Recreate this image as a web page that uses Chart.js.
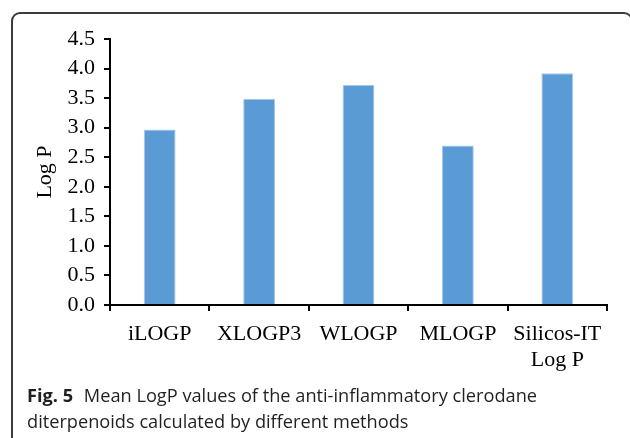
<!DOCTYPE html>
<html>
<head>
<meta charset="utf-8">
<script src="https://cdn.jsdelivr.net/npm/chart.js@4.4.1/dist/chart.umd.min.js"></script>
<style>
  html, body { margin: 0; padding: 0; background: #fff; width: 630px; height: 438px; overflow: hidden; }
  #frame {
    position: absolute; left: 11px; top: 12px; width: 622px; height: 460px;
    box-sizing: border-box;
    border: 2px solid #3c3c3c; border-bottom: none;
    border-radius: 9px 9px 0 0;
  }
  #chart { position: absolute; left: 0; top: 0; }
  #caption {
    position: absolute; left: 27px; top: 382px; width: 600px;
    font-family: "Open Sans", sans-serif; font-size: 18.2px; line-height: 26px;
    color: #231f20; white-space: nowrap;
  }
  #caption b { font-weight: 700; margin-right: 6px; }
</style>
</head>
<body>
<div id="frame"></div>
<canvas id="chart" width="630" height="385"></canvas>
<div id="caption"><b>Fig. 5</b> Mean LogP values of the anti-inflammatory clerodane<br>diterpenoids calculated by different methods</div>
<script>
// categories and values
const methods = ['iLOGP', 'XLOGP3', 'WLOGP', 'MLOGP', ['Silicos-IT', 'Log P']];
const meanLogP = [2.97, 3.49, 3.72, 2.70, 3.92];
const yTicks = [0, 0.5, 1.0, 1.5, 2.0, 2.5, 3.0, 3.5, 4.0, 4.5];

const serif = { family: '"Liberation Serif", "Times New Roman", serif', size: 22 };

function generateBarChart(canvasId, labels, data) {
    const chartData = {
        labels: labels,
        datasets: [{
            label: 'Log P',
            data: data,
            backgroundColor: '#5b9bd5',
            borderColor: '#a7c7ea',
            borderWidth: { left: 1, right: 1, top: 1, bottom: 0 },
            barPercentage: 0.32,
            categoryPercentage: 1.0
        }]
    };

    const config = {
        type: 'bar',
        data: chartData,
        options: {
            responsive: false,
            devicePixelRatio: 1,
            animation: false,
            layout: {
                padding: { left: 28, top: 39, right: 23, bottom: 10 }
            },
            plugins: {
                legend: { display: false },
                tooltip: { enabled: false }
            },
            scales: {
                x: {
                    offset: true,
                    grid: {
                        offset: true,
                        drawOnChartArea: false,
                        drawTicks: true,
                        tickLength: 6,
                        color: '#000',
                        lineWidth: 2
                    },
                    border: { display: true, color: '#000', width: 2 },
                    ticks: {
                        color: '#000',
                        font: serif,
                        padding: 10,
                        maxRotation: 0,
                        autoSkip: false
                    },
                    afterFit: function(scale) { scale.height = 70; }
                },
                y: {
                    min: yTicks[0],
                    max: yTicks[yTicks.length - 1],
                    afterBuildTicks: function(scale) {
                        scale.ticks = yTicks.map(function(v) { return { value: v }; });
                    },
                    grid: {
                        drawOnChartArea: false,
                        drawTicks: true,
                        tickLength: 6,
                        color: '#000',
                        lineWidth: 2
                    },
                    border: { display: true, color: '#000', width: 2 },
                    ticks: {
                        color: '#000',
                        font: serif,
                        padding: 9,
                        callback: function(value) {
                            return Number(value).toFixed(1);
                        }
                    },
                    title: {
                        display: true,
                        text: 'Log P',
                        color: '#000',
                        font: serif,
                        padding: { top: 4, bottom: 0 }
                    },
                    afterFit: function(scale) { scale.width = 82; }
                }
            }
        }
    };

    return new Chart(document.getElementById(canvasId), config);
}

generateBarChart('chart', methods, meanLogP);
</script>
</body>
</html>
